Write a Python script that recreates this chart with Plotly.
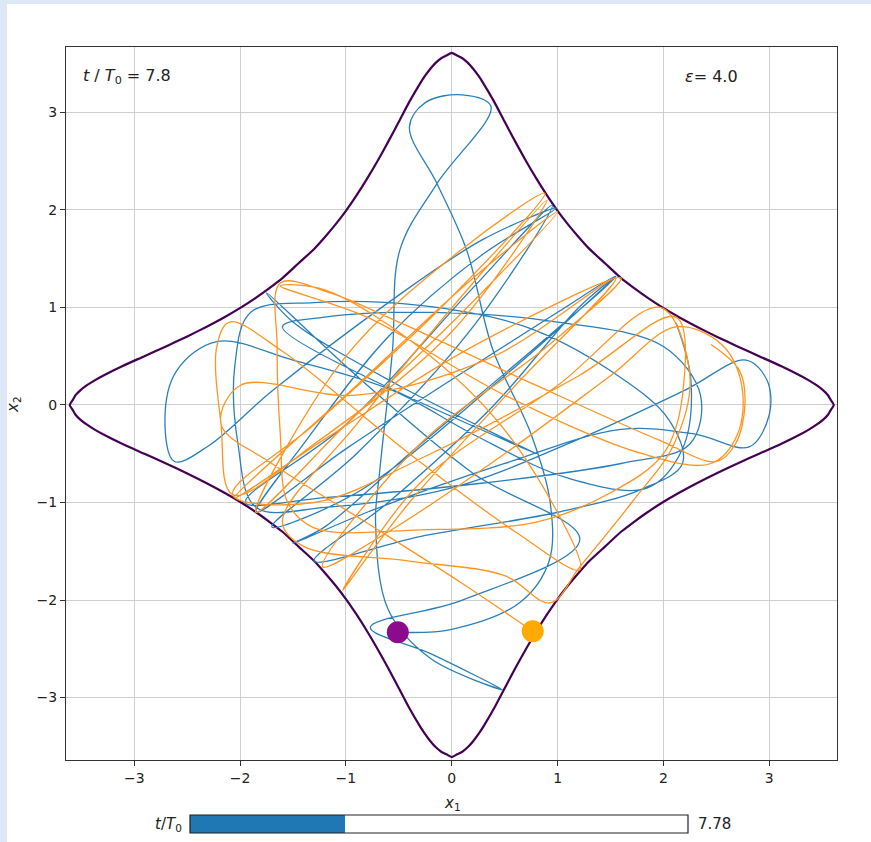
import plotly.graph_objects as go

# ---------------- data ----------------
# energy boundary, first quadrant, from (3.61, 0) to (0, 3.61)
bnd_q1_x1 = [3.61, 3.582, 3.555, 3.51, 3.45, 3.378, 3.295, 3.11, 2.904, 2.70, 2.504, 2.32, 2.148, 1.99, 1.849,
             1.72, 1.60, 1.45, 1.30, 1.20, 1.10, 1.00, 0.90, 0.80, 0.70, 0.60, 0.50, 0.40, 0.30, 0.25, 0.20,
             0.15, 0.10, 0.05, 0.0]
bnd_q1_x2 = [0.0, 0.05, 0.10, 0.15, 0.20, 0.25, 0.30, 0.40, 0.50, 0.60, 0.70, 0.80, 0.90, 1.00, 1.10,
             1.20, 1.30, 1.45, 1.60, 1.72, 1.849, 1.99, 2.148, 2.32, 2.504, 2.70, 2.904, 3.11, 3.295, 3.378, 3.45,
             3.51, 3.555, 3.582, 3.61]

# trajectory 1 (blue), ends at the purple dot
blue_path = [
    (2.12, 0.84), (2.26, 0.25), (2.18, -0.45), (1.85, -0.85), (1.1, -0.75), (0.2, -0.3), (-0.56, 0.15),
    (-1.5, 0.46), (-2.22, 0.65), (-2.6, 0.35), (-2.71, -0.15), (-2.62, -0.58), (-2.3, -0.42), (-1.69, 0.15),
    (-0.56, 1.08), (0.3, 1.7), (0.99, 2.02),
    (0.3, 1.55), (-0.6, 0.7), (-1.4, -0.4), (-1.85, -1.1),
    (-1.0, -0.45), (0.2, 0.4), (1.0, 0.95), (1.55, 1.32),
    (0.8, 0.6), (-0.4, -0.5), (-1.2, -1.25), (-1.5, -1.42),
    (-0.8, -1.1), (0.5, -0.6), (1.6, -0.25), (2.3, -0.3), (2.81, -0.43), (3.0, -0.1), (2.98, 0.25), (2.78, 0.46),
    (2.2, 0.15), (1.2, -0.35), (0.0, -0.85), (-1.2, -1.05), (-1.85, -1.05), (-2.02, -0.4), (-2.05, 0.4),
    (-1.9, 0.95), (-1.3, 1.05), (-0.3, 1.02), (0.7, 0.8), (1.5, 0.35), (2.05, -0.15), (2.18, -0.6), (1.78, -0.87),
    (1.0, -1.1), (-0.3, -1.35), (-1.3, -1.6),
    (-0.6, -1.0), (0.4, 0.0), (1.2, 1.0), (1.55, 1.32),
    (0.5, 0.3), (-0.9, -0.9), (-1.7, -1.25),
    (-0.9, -0.5), (0.2, 0.8), (0.95, 2.05),
    (0.2, 1.2), (-1.0, -0.2), (-1.95, -1.0),
    (-1.2, -0.95), (0.3, -0.8), (1.6, -0.6), (2.25, -0.4), (2.35, 0.1), (2.0, 0.6), (1.0, 0.85), (-0.2, 0.95),
    (-1.2, 0.9), (-1.6, 0.8),
    (0.8, -0.5), (-0.5, 0.2), (-1.5, 0.85), (-1.75, 1.15),
    (-0.9, 0.3), (0.2, -0.7), (1.21, -1.38), (0.1, -2.0), (-0.77, -2.28), (-0.2, -2.55), (0.48, -2.92),
    (-0.2, -2.6), (-0.6, -2.1), (-0.72, -1.2), (-0.68, -0.67), (-0.56, 0.56), (-0.49, 1.59), (-0.14, 2.27),
    (0.37, 3.06), (0.1, 3.18), (-0.25, 3.1), (-0.4, 2.85), (-0.14, 2.27), (0.14, 1.59), (0.39, 0.56),
    (0.75, -0.3), (0.93, -1.0), (0.92, -1.6), (0.65, -2.02), (0.0, -2.3), (-0.51, -2.33),
]

# trajectory 2 (orange), ends at the orange dot
orange_path = [
    (2.45, 0.62), (2.72, 0.35), (2.77, 0.0), (2.68, -0.4), (2.5, -0.58), (1.96, -0.36), (0.8, 0.2), (-0.5, 0.85),
    (-1.15, 1.15), (-1.62, 1.25),
    (-1.65, 0.6), (-1.62, -0.3), (-1.55, -1.0), (-1.3, -1.26), (-0.3, -1.28), (0.8, -1.2), (1.5, -0.9),
    (2.0, -0.5), (2.18, 0.1), (2.12, 0.9),
    (1.2, 0.3), (-0.2, -0.5), (-1.3, -1.0), (-2.07, -0.92),
    (-1.3, -0.2), (-0.1, 1.0), (0.88, 2.17),
    (0.1, 1.6), (-1.0, 0.5), (-1.85, -1.1),
    (-1.0, -0.2), (0.1, 0.95), (1.0, 1.98),
    (0.2, 1.3), (-0.9, 0.2), (-2.05, -0.95),
    (-1.2, -0.35), (0.2, 0.6), (1.6, 1.3),
    (0.9, 0.6), (-0.3, -0.4), (-1.22, -1.66),
    (-0.6, -1.3), (0.5, -0.5), (1.5, 0.3), (2.12, 0.8), (2.55, 0.62), (2.74, 0.2), (2.7, -0.3), (2.45, -0.6),
    (1.8, -0.5), (0.5, 0.1), (-0.8, 0.9), (-1.62, 1.22),
    (-1.2, 1.18), (-0.2, 0.5), (0.6, -0.4), (1.21, -1.69),
    (0.6, -1.3), (-0.4, -0.5), (-1.6, 0.55), (-2.1, 0.85), (-2.22, 0.6), (-2.18, -0.2), (-2.07, -0.92),
    (-1.3, -0.4), (0.0, 0.75), (0.9, 2.1),
    (0.2, 1.25), (-0.9, -0.2), (-1.6, -1.2), (-1.4, -1.45), (-0.4, -1.6), (0.5, -1.75), (0.93, -2.03),
    (1.21, -1.66), (1.7, -1.0), (2.1, -0.4), (2.25, 0.3), (1.97, 1.0),
    (1.0, 0.2), (-0.3, -0.8), (-1.03, -1.9),
    (-0.4, -1.0), (0.6, 0.2), (1.55, 1.3),
    (0.4, 0.5), (-0.9, 0.1), (-2.0, 0.2), (-2.18, -0.2), (-1.7, -0.6), (-0.8, -1.21), (0.1, -1.83),
    (0.765, -2.32),
]

tick_values = [-3, -2, -1, 0, 1, 2, 3]
tick_labels = ["\u22123", "\u22122", "\u22121", "0", "1", "2", "3"]
t_over_T0 = 7.8
t_slider_value = 7.78
t_slider_max = 25.0
epsilon = 4.0

# ---------------- figure ----------------
W, H = 871, 842
def px(x): return x / W
def py(y): return 1 - y / H

# full closed boundary from the first-quadrant reading (the curve is symmetric)
bx = (bnd_q1_x1 + [-v for v in reversed(bnd_q1_x1)][1:] + [-v for v in bnd_q1_x1][1:]
      + list(reversed(bnd_q1_x1))[1:])
by = (bnd_q1_x2 + list(reversed(bnd_q1_x2))[1:] + [-v for v in bnd_q1_x2][1:]
      + [-v for v in reversed(bnd_q1_x2)][1:])

blue_x1 = [p[0] for p in blue_path]
blue_x2 = [p[1] for p in blue_path]
orange_x1 = [p[0] for p in orange_path]
orange_x2 = [p[1] for p in orange_path]

fig = go.Figure()
fig.add_trace(go.Scatter(x=bx, y=by, mode="lines",
                         line=dict(color="#440154", width=2.2, shape="spline", smoothing=0.6),
                         hoverinfo="skip", showlegend=False))
fig.add_trace(go.Scatter(x=blue_x1, y=blue_x2, mode="lines",
                         line=dict(color="#2a7fba", width=1.3, shape="spline", smoothing=1.0),
                         hoverinfo="skip", showlegend=False))
fig.add_trace(go.Scatter(x=orange_x1, y=orange_x2, mode="lines",
                         line=dict(color="#ff9420", width=1.3, shape="spline", smoothing=1.0),
                         hoverinfo="skip", showlegend=False))
fig.add_trace(go.Scatter(x=[blue_x1[-1]], y=[blue_x2[-1]], mode="markers",
                         marker=dict(color="#8c0a8c", size=22, line=dict(width=0)),
                         hoverinfo="skip", showlegend=False))
fig.add_trace(go.Scatter(x=[orange_x1[-1]], y=[orange_x2[-1]], mode="markers",
                         marker=dict(color="#ffaa00", size=22, line=dict(width=0)),
                         hoverinfo="skip", showlegend=False))

axis_common = dict(
    tickvals=tick_values, ticktext=tick_labels, showgrid=True, gridcolor="#cfcfcf", gridwidth=1,
    zeroline=False, showline=True, linecolor="#333333", linewidth=1.2, mirror=True,
    ticks="outside", ticklen=5, tickwidth=1, tickcolor="#333333",
    tickfont=dict(family="DejaVu Sans", size=14, color="#222222"),
)
fig.update_xaxes(domain=[px(66), px(837)], range=[-3.645, 3.64], **axis_common)
fig.update_yaxes(domain=[py(760), py(47)], range=[-3.64, 3.67], **axis_common)

fill_frac = t_slider_value / t_slider_max
sx0, sx1 = px(190), px(688)
shapes = [
    dict(type="rect", xref="paper", yref="paper", x0=0, x1=px(7), y0=0, y1=1,
         fillcolor="#dde8f6", line=dict(width=0), layer="below"),
    dict(type="rect", xref="paper", yref="paper", x0=0, x1=1, y0=py(4), y1=1,
         fillcolor="#dde8f6", line=dict(width=0), layer="below"),
    dict(type="rect", xref="paper", yref="paper", x0=sx0, x1=sx1, y0=py(833), y1=py(815),
         fillcolor="white", line=dict(width=0)),
    dict(type="rect", xref="paper", yref="paper", x0=sx0, x1=sx0 + (sx1 - sx0) * fill_frac,
         y0=py(833), y1=py(815), fillcolor="#1f77b4", line=dict(width=0)),
    dict(type="rect", xref="paper", yref="paper", x0=sx0, x1=sx1, y0=py(833), y1=py(815),
         fillcolor="rgba(0,0,0,0)", line=dict(color="#222222", width=1.2)),
]

font = dict(family="DejaVu Sans", size=15, color="#222222")
annotations = [
    dict(text="<i>x</i><sub>1</sub>", x=px(452), y=py(803), xref="paper", yref="paper",
         showarrow=False, font=font, xanchor="center", yanchor="middle"),
    dict(text="<i>x</i><sub>2</sub>", x=px(14), y=py(405), xref="paper", yref="paper",
         showarrow=False, font=font, textangle=-90, xanchor="center", yanchor="middle"),
    dict(text=f"<i>t</i> / <i>T</i><sub>0</sub> = {t_over_T0}", x=px(81), y=py(77), xref="paper", yref="paper",
         showarrow=False, font=dict(family="DejaVu Sans", size=16, color="#222222"), xanchor="left", yanchor="middle"),
    dict(text=f"<i>\u03b5</i>= {epsilon}", x=px(683), y=py(77), xref="paper", yref="paper",
         showarrow=False, font=dict(family="DejaVu Sans", size=16, color="#222222"), xanchor="left", yanchor="middle"),
    dict(text="<i>t</i>/<i>T</i><sub>0</sub>", x=px(184), y=py(824), xref="paper", yref="paper",
         showarrow=False, font=font, xanchor="right", yanchor="middle"),
    dict(text=f"{t_slider_value}", x=px(696), y=py(824), xref="paper", yref="paper",
         showarrow=False, font=font, xanchor="left", yanchor="middle"),
]

fig.update_layout(width=W, height=H, margin=dict(l=0, r=0, t=0, b=0),
                  paper_bgcolor="white", plot_bgcolor="white",
                  shapes=shapes, annotations=annotations, showlegend=False)

fig.write_html("out.html")
